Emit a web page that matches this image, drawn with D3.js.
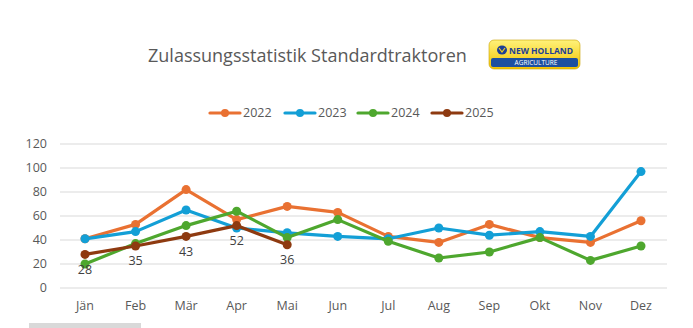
<!DOCTYPE html>
<html><head><meta charset="utf-8">
<script src="https://cdn.jsdelivr.net/npm/d3@7"></script>
<style>body{margin:0;background:#fff}svg{display:block}text{font-family:"Open Sans",sans-serif}</style>
</head><body>
<script>
const months = ["Jän","Feb","Mär","Apr","Mai","Jun","Jul","Aug","Sep","Okt","Nov","Dez"];
const years = ["2022","2023","2024","2025"];
const v2022 = [41,53,82,57,68,63,43,38,53,42,38,56];
const v2023 = [41,47,65,50,46,43,41,50,44,47,43,97];
const v2024 = [20,37,52,64,42,57,39,25,30,42,23,35];
const v2025 = [28,35,43,52,36];
const yTicks = [0,20,40,60,80,100,120];
const colors = ["#E97132","#139FD6","#4EA72E","#8E3A10"];
const series = [v2022,v2023,v2024,v2025];

const W=693,H=328;
const svg=d3.select("body").append("svg").attr("width",W).attr("height",H);
const x=d3.scalePoint().domain(months).range([85,641]);
const y=d3.scaleLinear().domain([0,120]).range([288,144]);

// grid
svg.append("g").selectAll("line").data(yTicks).join("line")
 .attr("x1",60).attr("x2",667).attr("y1",d=>y(d)).attr("y2",d=>y(d))
 .attr("stroke","#d9d9d9").attr("stroke-width",1);
// y labels
svg.append("g").selectAll("text").data(yTicks).join("text")
 .attr("x",47).attr("y",d=>y(d)).attr("dy","0.35em").attr("text-anchor","end")
 .attr("font-size",12.5).attr("fill","#595959").text(d=>d);
// x labels
svg.append("g").selectAll("text").data(months).join("text")
 .attr("x",d=>x(d)).attr("y",306).attr("dy","0.35em").attr("text-anchor","middle")
 .attr("font-size",12.5).attr("fill","#595959").text(d=>d);

const line=d3.line().x((d,i)=>x(months[i])).y(d=>y(d));
series.forEach((s,k)=>{
 const g=svg.append("g");
 g.append("path").attr("d",line(s)).attr("fill","none").attr("stroke",colors[k])
  .attr("stroke-width",3.2).attr("stroke-linejoin","round").attr("stroke-linecap","round");
 g.selectAll("circle").data(s).join("circle").attr("cx",(d,i)=>x(months[i])).attr("cy",d=>y(d))
  .attr("r",4.5).attr("fill",colors[k]);
});
// labels for 2025
svg.append("g").selectAll("text").data(v2025).join("text")
 .attr("x",(d,i)=>x(months[i])).attr("y",d=>y(d)+15).attr("dy","0.35em").attr("text-anchor","middle")
 .attr("font-size",12.5).attr("fill","#404040").text(d=>d);

// title
svg.append("text").attr("x",148).attr("y",56).attr("dy","0.35em").attr("font-size",18)
 .attr("fill","#595959").text("Zulassungsstatistik Standardtraktoren");

// logo
const defs=svg.append("defs");
const gr=defs.append("linearGradient").attr("id","lg").attr("x1",0).attr("y1",0).attr("x2",0).attr("y2",1);
gr.append("stop").attr("offset","0%").attr("stop-color","#fff27a");
gr.append("stop").attr("offset","100%").attr("stop-color","#f2c200");
const lg=svg.append("g");
lg.append("rect").attr("x",489).attr("y",40).attr("width",91).attr("height",29).attr("rx",5).attr("fill","url(#lg)").attr("stroke","#c9a100").attr("stroke-width",0.6);
lg.append("rect").attr("x",491).attr("y",58).attr("width",87).attr("height",9).attr("rx",2).attr("fill","#1d4fa0");
lg.append("ellipse").attr("cx",502).attr("cy",50).attr("rx",5).attr("ry",4.5).attr("fill","#1d3f95");
lg.append("path").attr("d","M499,48 L502,52 L505,48").attr("stroke","#f5d020").attr("stroke-width",1.2).attr("fill","none");
lg.append("text").attr("x",509).attr("y",50.5).attr("dy","0.35em")
 .attr("font-size",9).attr("font-weight","bold").attr("fill","#1d3f95").attr("font-family","DejaVu Sans Condensed, sans-serif")
 .attr("textLength",64).attr("lengthAdjust","spacingAndGlyphs").text("NEW HOLLAND");
lg.append("text").attr("x",536).attr("y",62.5).attr("dy","0.35em").attr("text-anchor","middle")
 .attr("font-size",6.5).attr("fill","#fff").text("AGRICULTURE");

// legend
const legX=[210,285,358,432];
const lgd=svg.append("g");
years.forEach((yr,k)=>{
 const gx=legX[k];
 lgd.append("line").attr("x1",gx).attr("x2",gx+30).attr("y1",113).attr("y2",113).attr("stroke",colors[k]).attr("stroke-width",3.2).attr("stroke-linecap","round");
 lgd.append("circle").attr("cx",gx+15).attr("cy",113).attr("r",4).attr("fill",colors[k]);
 lgd.append("text").attr("x",gx+33).attr("y",113).attr("dy","0.35em").attr("font-size",12.5).attr("fill","#595959").text(yr);
});
// bottom scrollbar-like bar
svg.append("rect").attr("x",29).attr("y",323).attr("width",112).attr("height",5).attr("fill","#d9d9d9");
</script>
</body></html>
